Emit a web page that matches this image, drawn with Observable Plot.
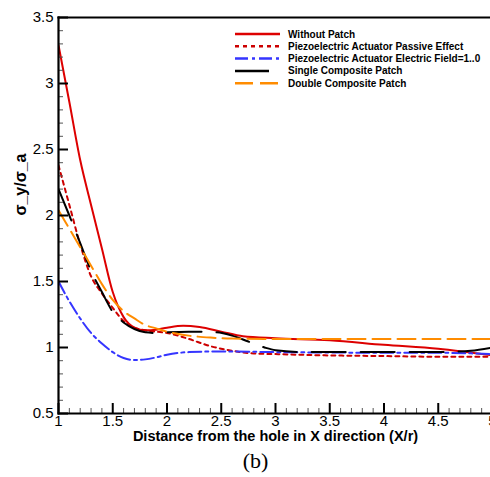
<!DOCTYPE html>
<html>
<head>
<meta charset="utf-8">
<script src="https://cdn.jsdelivr.net/npm/d3@7"></script>
<script src="https://cdn.jsdelivr.net/npm/@observablehq/plot@0.6"></script>
<style>
  html, body { margin: 0; padding: 0; background: #fff; }
  #chart svg { display: block; font-family: "Liberation Sans", Arial, Helvetica, sans-serif; }
</style>
</head>
<body>
<div id="chart"></div>
<script>
// ---- data ----
const seriesNames = [
  "Without Patch",
  "Piezoelectric Actuator Passive Effect",
  "Piezoelectric Actuator Electric Field=1..0",
  "Single Composite Patch",
  "Double Composite Patch"
];

const withoutPatchX = [1, 1.1, 1.2, 1.3, 1.4, 1.5, 1.6, 1.7, 1.8, 1.9, 2.0, 2.15, 2.3, 2.5, 2.7, 3.0, 3.5, 4.0, 4.5, 5.0];
const withoutPatchY = [3.29, 2.86, 2.42, 2.08, 1.75, 1.42, 1.23, 1.15, 1.13, 1.135, 1.15, 1.165, 1.155, 1.12, 1.085, 1.07, 1.055, 1.02, 0.99, 0.94];

const passiveX = [1, 1.1, 1.2, 1.3, 1.4, 1.5, 1.6, 1.7, 1.8, 1.9, 2.0, 2.1, 2.2, 2.4, 2.6, 2.8, 3.0, 3.5, 4.0, 4.5, 5.0];
const passiveY = [2.38, 2.08, 1.78, 1.54, 1.41, 1.30, 1.20, 1.15, 1.13, 1.12, 1.11, 1.09, 1.065, 1.01, 0.975, 0.955, 0.95, 0.94, 0.935, 0.93, 0.93];

const electricX = [1, 1.1, 1.2, 1.3, 1.4, 1.5, 1.6, 1.7, 1.8, 1.9, 2.0, 2.2, 2.5, 3.0, 3.5, 4.0, 4.5, 5.0];
const electricY = [1.50, 1.35, 1.22, 1.11, 1.03, 0.965, 0.92, 0.905, 0.91, 0.925, 0.945, 0.965, 0.97, 0.965, 0.962, 0.96, 0.96, 0.95];

const singleX = [1, 1.1, 1.2, 1.3, 1.4, 1.5, 1.6, 1.7, 1.8, 1.9, 2.0, 2.2, 2.45, 2.6, 2.75, 2.9, 3.0, 3.3, 3.7, 4.0, 4.5, 4.8, 5.0];
const singleY = [2.2, 2.0, 1.79, 1.58, 1.42, 1.27, 1.19, 1.14, 1.115, 1.11, 1.115, 1.12, 1.115, 1.09, 1.045, 1.0, 0.98, 0.965, 0.965, 0.965, 0.965, 0.975, 1.0];

const doubleX = [1, 1.1, 1.2, 1.3, 1.4, 1.5, 1.6, 1.7, 1.8, 1.9, 2.0, 2.2, 2.4, 2.6, 3.0, 4.0, 5.0];
const doubleY = [2.04, 1.90, 1.76, 1.62, 1.48, 1.36, 1.275, 1.22, 1.17, 1.145, 1.12, 1.09, 1.075, 1.068, 1.065, 1.065, 1.065];

const xTickValues = [1, 1.5, 2, 2.5, 3, 3.5, 4, 4.5, 5];
const xTickLabels = ["1", "1.5", "2", "2.5", "3", "3.5", "4", "4.5", "5"];
const yTickValues = [0.5, 1, 1.5, 2, 2.5, 3, 3.5];
const yTickLabels = ["0.5", "1", "1.5", "2", "2.5", "3", "3.5"];

const xTitle = "Distance from the hole in X direction (X/r)";
const yTitle = "σ_y/σ_a";
const panelLabel = "(b)";

// ---- styles ----
const styles = [
  {stroke: "#dd0000", dash: null},
  {stroke: "#cc0000", dash: "4,4"},
  {stroke: "#3535ff", dash: "13,4,3,4"},
  {stroke: "#000000", dash: "34,15"},
  {stroke: "#ff8c00", dash: "18,7"}
];

const xsList = [withoutPatchX, passiveX, electricX, singleX, doubleX];
const ysList = [withoutPatchY, passiveY, electricY, singleY, doubleY];

const W = 490, H = 477;
const mT = 17, mB = 64, mL = 58, mR = -2;
const plotW = W - mL - mR, plotH = H - mT - mB;

const minorX = d3.range(10, 51).map(v => v / 10).filter(v => !xTickValues.some(t => Math.abs(t - v) < 1e-9));
const minorY = d3.range(5, 36).map(v => v / 10).filter(v => !yTickValues.some(t => Math.abs(t - v) < 1e-9));

const lineMarks = seriesNames.map((name, i) => {
  const rows = xsList[i].map((x, j) => ({x, y: ysList[i][j]}));
  return Plot.line(rows, {
    x: "x", y: "y",
    stroke: styles[i].stroke,
    strokeWidth: 2,
    strokeDasharray: styles[i].dash,
    curve: "monotone-x",
    clip: "frame"
  });
});

const chart = Plot.plot({
  width: W,
  height: H,
  marginTop: mT,
  marginBottom: mB,
  marginLeft: mL,
  marginRight: mR,
  style: {fontFamily: "Liberation Sans, Arial, Helvetica, sans-serif", background: "#fff"},
  x: {domain: [1, 5]},
  y: {domain: [0.5, 3.5]},
  marks: [
    ...lineMarks,
    // minor ticks (inward)
    Plot.ruleX(minorX, {x: d => d, insetTop: plotH - 5, stroke: "#555", strokeWidth: 1}),
    Plot.ruleY(minorY, {y: d => d, insetRight: plotW - 5, stroke: "#555", strokeWidth: 1}),
    // major ticks (inward)
    Plot.ruleX(xTickValues, {x: d => d, insetTop: plotH - 10, stroke: "#000", strokeWidth: 2}),
    Plot.ruleY(yTickValues, {y: d => d, insetRight: plotW - 10, stroke: "#000", strokeWidth: 2}),
    // frame edges
    Plot.frame({anchor: "left", stroke: "#000", strokeWidth: 2.2}),
    Plot.frame({anchor: "top", stroke: "#000", strokeWidth: 2.2}),
    Plot.frame({anchor: "bottom", stroke: "#000", strokeWidth: 2.2}),
    // axes labels
    Plot.axisX({ticks: xTickValues, tickSize: 0, tickPadding: 2, fontSize: 15,
      tickFormat: d => xTickLabels[xTickValues.indexOf(d)], label: null}),
    Plot.axisY({ticks: yTickValues, tickSize: 0, tickPadding: 5, fontSize: 15,
      tickFormat: d => yTickLabels[yTickValues.indexOf(d)], label: null}),
    Plot.text([xTitle], {frameAnchor: "bottom", dy: 27, fontSize: 14.5, fontWeight: "bold", fill: "#000"}),
    Plot.text([yTitle], {frameAnchor: "left", dx: -38, rotate: -90, fontSize: 16, fontWeight: "bold", fill: "#000"}),
    Plot.text([panelLabel], {frameAnchor: "bottom", dx: -20, dy: 54, fontSize: 22, fontFamily: "Liberation Serif, Times New Roman, serif", fill: "#000"})
  ]
});

document.getElementById("chart").appendChild(chart);

// ---- legend (inside plot, top right) ----
const svg = d3.select(chart);
const lg = svg.append("g").attr("class", "legend").attr("text-anchor", "start");
const lx0 = 235, lx1 = 280, tx = 288, ly0 = 34, dyStep = 12.3;
seriesNames.forEach((name, i) => {
  const y = ly0 + i * dyStep;
  lg.append("line")
    .attr("x1", lx0).attr("x2", lx1).attr("y1", y).attr("y2", y)
    .attr("stroke", styles[i].stroke).attr("stroke-width", 2.5)
    .attr("stroke-dasharray", styles[i].dash);
  lg.append("text")
    .attr("x", tx).attr("y", y).attr("dy", "0.35em")
    .attr("text-anchor", "start")
    .attr("font-size", 10).attr("font-weight", "bold")
    .attr("font-family", "Liberation Sans, Arial, Helvetica, sans-serif")
    .attr("fill", "#000")
    .text(name);
});
</script>
</body>
</html>
